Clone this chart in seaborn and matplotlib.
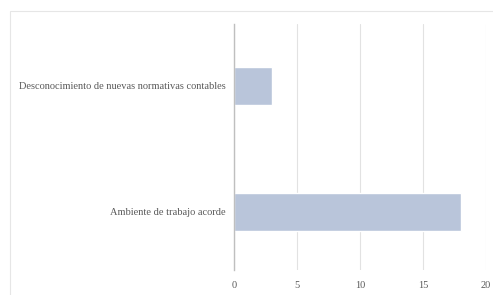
import matplotlib
matplotlib.use("Agg")
import matplotlib.pyplot as plt
import seaborn as sns
import pandas as pd
from matplotlib.patches import Rectangle

categories = ["Desconocimiento de nuevas normativas contables", "Ambiente de trabajo acorde"]
values = [3, 18]
x_ticks = [0, 5, 10, 15, 20]

df = pd.DataFrame({"categoria": categories, "valor": values})

sns.set_style("white")
plt.rcParams["font.family"] = ["Liberation Serif", "DejaVu Serif"]

fig = plt.figure(figsize=(4.93, 2.95), dpi=100)
ax = fig.add_axes([234 / 493, 1 - 270 / 295, 252 / 493, 246 / 295])

# chart area frame
fig.patches.append(Rectangle((10 / 493, -0.01), 1.0, 1 - 11 / 295 + 0.01,
                             transform=fig.transFigure, fill=False,
                             edgecolor="#E6E6E6", linewidth=0.8))

sns.barplot(data=df, x="valor", y="categoria", orient="h", color="#B4C3DF",
            width=0.30, ax=ax, zorder=2)

ax.set_xlim(0, 20)
ax.set_xticks(x_ticks)
ax.set_ylim(1.46, -0.49)
ax.grid(axis="x", color="#E2E2E2", linewidth=0.8, zorder=0)
ax.set_axisbelow(True)
for s in ["top", "right", "bottom"]:
    ax.spines[s].set_visible(False)
ax.spines["left"].set_color("#BFBFBF")
ax.spines["left"].set_linewidth(1.0)
ax.tick_params(axis="both", length=0, labelsize=7.5, colors="#595959", pad=8)
ax.tick_params(axis="y", pad=6)
ax.set_xlabel("")
ax.set_ylabel("")

fig.savefig("out.png", dpi=100)
